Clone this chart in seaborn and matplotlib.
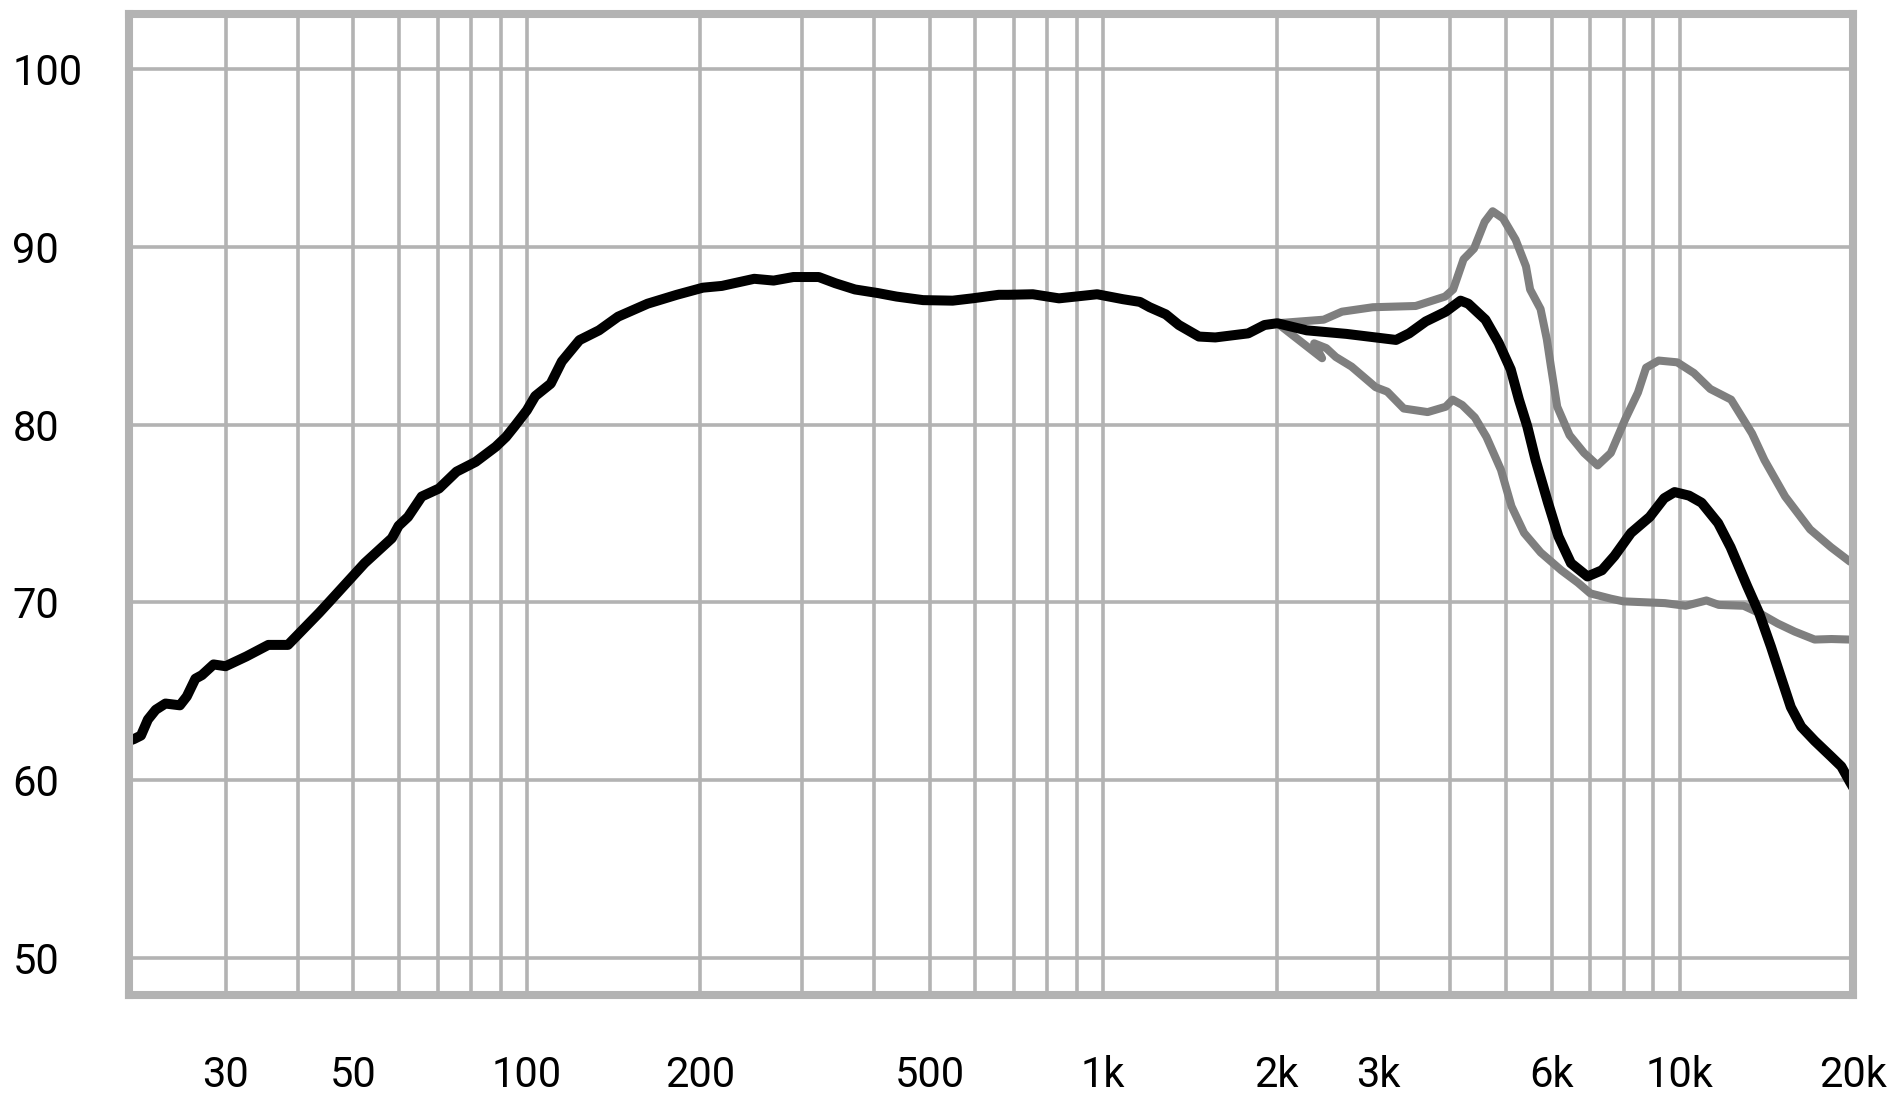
#librerias
import pandas as pd
import seaborn as sns
import matplotlib.pyplot as plt
from matplotlib.ticker import FixedLocator, NullFormatter

# Curva principal (negra): frecuencia en Hz y nivel en dB
frec_eje = [20.4, 20.8, 21.4, 22.0, 22.7, 23.6, 25.0, 25.7, 26.6, 27.3, 28.6, 30.0, 32.6, 35.6, 38.5,
            43.6, 45.2, 52.3, 58.3, 59.9, 62.2, 65.7, 70.4, 75.5, 81.5, 88.3, 92, 95.2, 100, 103.4,
            110, 115, 123.4, 133.4, 144, 162, 182, 202, 218, 248, 268, 290, 321, 343, 371, 406,
            438, 487, 548, 593, 659, 685, 755, 838, 976, 1083, 1158, 1204, 1284, 1353, 1466, 1565,
            1785, 1905, 2005, 2255, 2643, 3222, 3396, 3628, 3929, 4169, 4300, 4605, 4854, 5095,
            5265, 5443, 5627, 5913, 6165, 6481, 6923, 7335, 7710, 8238, 8877, 9405, 9806, 10388,
            10922, 11669, 12262, 13105, 13740, 14410, 14990, 15600, 16260, 17160, 18350, 19090,
            19750, 20000]
spl_eje = [62.2, 62.3, 62.5, 63.4, 63.95, 64.3, 64.2, 64.7, 65.7, 65.9, 66.5, 66.4, 66.95, 67.6, 67.6,
           69.4, 69.95, 72.2, 73.6, 74.3, 74.8, 75.95, 76.4, 77.35, 77.9, 78.75, 79.3, 79.9, 80.8, 81.6,
           82.3, 83.55, 84.75, 85.3, 86.07, 86.8, 87.3, 87.7, 87.8, 88.2, 88.1, 88.3, 88.3, 87.95, 87.6, 87.4,
           87.2, 87.0, 86.97, 87.1, 87.3, 87.3, 87.33, 87.1, 87.33, 87.05, 86.9, 86.6, 86.2, 85.6, 84.95, 84.9,
           85.13, 85.6, 85.7, 85.3, 85.1, 84.76, 85.13, 85.8, 86.35, 86.97, 86.8, 85.9, 84.6, 83.1,
           81.4, 79.9, 78.0, 75.6, 73.7, 72.2, 71.45, 71.8, 72.6, 73.9, 74.8, 75.85, 76.2, 76.0,
           75.6, 74.45, 73.1, 70.9, 69.4, 67.5, 65.8, 64.1, 63.0, 62.2, 61.3, 60.76,
           59.9, 59.6]

# Curva gris de arriba
frec_gris1 = [2005, 2413, 2596, 2937, 3485, 3919, 4048, 4220, 4400, 4590, 4740, 4940, 5195, 5415, 5505,
              5740, 5885, 5980, 6135, 6445, 6830, 7210, 7600, 8050, 8470, 8750, 9200, 9910, 10590, 11310,
              12290, 13360, 14040, 15250, 16850, 18310, 19730, 20000]
spl_gris1 = [85.7, 85.9, 86.35, 86.6, 86.67, 87.2, 87.6, 89.3, 89.9, 91.4, 92.0, 91.6, 90.4, 88.9, 87.6,
             86.5, 84.8, 83.3, 81.0, 79.4, 78.4, 77.7, 78.4, 80.3, 81.8, 83.2, 83.6, 83.5, 82.9, 82.0,
             81.4, 79.5, 78.0, 75.95, 74.1, 73.1, 72.3, 72.2]

# Curva gris de abajo (tiene un pequeño retroceso cerca de 2.4k)
frec_gris2 = [2005, 2398, 2323, 2438, 2533, 2697, 2970, 3111, 3323, 3656, 3929, 4040, 4196, 4414, 4624,
              4900, 5110, 5374, 5743, 6234, 6663, 7001, 7604, 7991, 9433, 10250, 11135, 11700, 12920, 13740,
              14810, 15840, 17160, 18350, 19750, 20000]
spl_gris2 = [85.7, 83.73, 84.57, 84.3, 83.8, 83.26, 82.1, 81.85, 80.9, 80.7, 81.0, 81.4, 81.1, 80.4, 79.3,
             77.45, 75.4, 73.9, 72.8, 71.8, 71.1, 70.5, 70.2, 70.05, 69.95, 69.8, 70.1, 69.85, 69.8, 69.4,
             68.8, 68.35, 67.9, 67.93, 67.9, 67.9]

# Ejes
ticks_x = [30, 50, 100, 200, 500, 1000, 2000, 3000, 6000, 10000, 20000]
etiquetas_x = ['30', '50', '100', '200', '500', '1k', '2k', '3k', '6k', '10k', '20k']
grid_menor_x = [40, 60, 70, 80, 90, 300, 400, 600, 700, 800, 900, 4000, 5000, 7000, 8000, 9000]
ticks_y = [50, 60, 70, 80, 90, 100]

sns.set_style("white")
plt.rcParams['font.family'] = ['Roboto', 'DejaVu Sans']

fig = plt.figure(figsize=(18.99, 10.99), dpi=100)
ax = fig.add_axes([129 / 1899, 1 - 995 / 1099, (1853 - 129) / 1899, (995 - 14) / 1099])

gris_claro = '#b3b3b3'
gris_curva = '#7f7f7f'

df_eje = pd.DataFrame({'frec': frec_eje, 'spl': spl_eje})
df_g1 = pd.DataFrame({'frec': frec_gris1, 'spl': spl_gris1})
df_g2 = pd.DataFrame({'frec': frec_gris2, 'spl': spl_gris2})

ax.set_xscale('log')

# grises primero, la negra encima
sns.lineplot(data=df_g1, x='frec', y='spl', color=gris_curva, lw=5.8,
             sort=False, estimator=None, ax=ax)
sns.lineplot(data=df_g2, x='frec', y='spl', color=gris_curva, lw=5.8,
             sort=False, estimator=None, ax=ax)
sns.lineplot(data=df_eje, x='frec', y='spl', color='black', lw=7.2,
             sort=False, estimator=None, ax=ax)

ax.set_xlim(20.4, 20000)
ax.set_ylim(47.9, 103.1)

ax.xaxis.set_major_locator(FixedLocator(ticks_x))
ax.set_xticklabels(etiquetas_x)
ax.xaxis.set_minor_locator(FixedLocator(grid_menor_x))
ax.xaxis.set_minor_formatter(NullFormatter())
ax.set_yticks(ticks_y)
ax.set_yticklabels([str(v) for v in ticks_y])

ax.set_axisbelow(True)
ax.grid(True, which='both', axis='x', color=gris_claro, linewidth=2.6)
ax.grid(True, which='major', axis='y', color=gris_claro, linewidth=2.6)

for s in ax.spines.values():  # marco gris grueso
    s.set_visible(True)
    s.set_color(gris_claro)
    s.set_linewidth(5.8)

ax.tick_params(which='both', length=0, labelsize=30, labelcolor='black')
ax.tick_params(axis='x', pad=43)
ax.tick_params(axis='y', pad=84)
plt.setp(ax.get_yticklabels(), ha='left')

ax.set_xlabel('')
ax.set_ylabel('')

fig.savefig('out.png', dpi=100)
